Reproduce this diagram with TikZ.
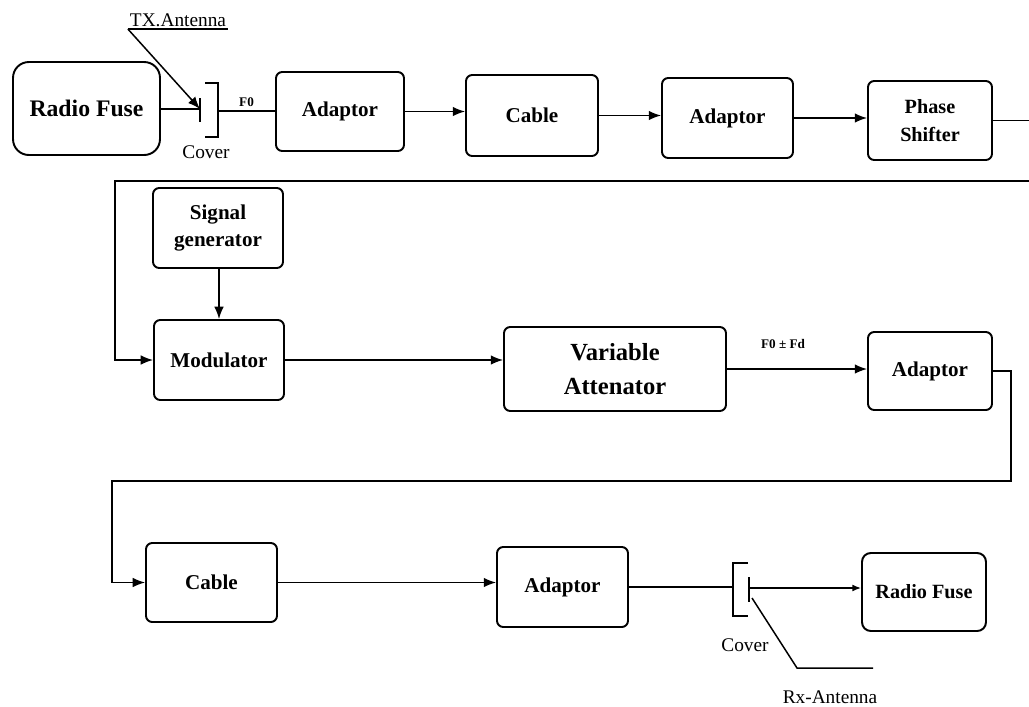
\documentclass[tikz,border=0pt]{standalone}
\usepackage{fontspec}
\setmainfont{Liberation Serif}
\usetikzlibrary{arrows.meta}

\begin{document}
\begin{tikzpicture}[x=0.02cm, y=-0.02cm,
  blk/.style={draw, line width=1.1pt, rounded corners=3.5pt, inner sep=0pt,
              font=\fontsize{12}{15}\selectfont\bfseries, align=center},
  conn/.style={line width=0.85pt},
  arr/.style={conn, -{Latex[length=7pt, width=5.5pt]}},
  lbl/.style={font=\fontsize{11}{13}\selectfont, inner sep=1pt},
  sig/.style={font=\fontsize{7.5}{9}\selectfont\bfseries, inner sep=1pt}
]
\useasboundingbox (0,0) rectangle (1029,707);
\clip (0,0) rectangle (1029,707);
% ---- top row ----
\node[blk, rounded corners=9pt, minimum width=2.94cm, minimum height=1.86cm,
      font=\fontsize{13.5}{16}\selectfont\bfseries] (rfA) at (86.5,108.5) {Radio Fuse};
\node[blk, minimum width=2.56cm, minimum height=1.58cm] (adA) at (340,111.5) {Adaptor};
\node[blk, minimum width=2.64cm, minimum height=1.62cm] (cabA) at (532,115.5) {Cable};
\node[blk, minimum width=2.62cm, minimum height=1.6cm] (adB) at (727.5,118) {Adaptor};
\node[blk, minimum width=2.48cm, minimum height=1.58cm,
      font=\fontsize{11.5}{16}\selectfont\bfseries] (phs) at (930,120.5) {Phase\\Shifter};
% ---- tx antenna and cover ----
\coordinate (txA) at (200,109);
\coordinate (covAout) at (218,111);
\draw[conn] (200,98) -- (200,122);
\draw[conn] (205,83) -- (218,83) -- (218,137) -- (205,137);
\node[lbl] (covA) at (206,152) {Cover};
\node[lbl, anchor=south] (txlbl) at (178,29) {TX.Antenna};
\draw[conn] (txlbl.south west) -- (txlbl.south east);
\draw[arr] (txlbl.south west) -- (txA);
\draw[conn] (rfA.east |- txA) -- (txA);
\draw[conn] (covAout) -- node[sig, above=1pt] {F0} (covAout -| adA.west);
\draw[arr] (adA.east) -- (adA.east -| cabA.west);
\draw[arr] (cabA.east) -- (cabA.east -| adB.west);
\draw[arr] (adB.east) -- (adB.east -| phs.west);
% ---- middle row ----
\node[blk, minimum width=2.6cm, minimum height=1.6cm] (sgen) at (218,228) {Signal\\generator};
\node[blk, minimum width=2.6cm, minimum height=1.6cm] (mod) at (219,360) {Modulator};
\node[blk, minimum width=4.44cm, minimum height=1.68cm,
      font=\fontsize{14}{19.5}\selectfont\bfseries] (vatt) at (615,369) {Variable\\Attenator};
\node[blk, minimum width=2.48cm, minimum height=1.56cm] (adC) at (930,371) {Adaptor};
\draw[arr] (phs.east) -- ++(60,0) |- (115,181) |- (mod.west);
\draw[arr] (sgen.south -| mod.north) -- (mod.north);
\draw[arr] (mod.east) -- (mod.east -| vatt.west);
\draw[arr] (vatt.east) -- (vatt.east -| adC.west);
\node[sig] (fdlbl) at (783,344) {F0 ± Fd};
% ---- bottom row ----
\node[blk, minimum width=2.62cm, minimum height=1.58cm] (cabB) at (211.5,582.5) {Cable};
\node[blk, minimum width=2.62cm, minimum height=1.6cm] (adD) at (562.5,587) {Adaptor};
\node[blk, rounded corners=5pt, minimum width=2.48cm, minimum height=1.56cm,
      font=\fontsize{11.5}{14}\selectfont\bfseries] (rfB) at (924,592) {Radio Fuse};
\draw[arr] (adC.east) -- ++(18,0) |- (112,481) |- (cabB.west);
\draw[arr] (cabB.east) -- (cabB.east -| adD.west);
% ---- rx antenna and cover ----
\coordinate (covBin) at (733,587);
\coordinate (rxA) at (749,588);
\coordinate (rxlead) at (797,668);
\draw[conn] (adD.east) -- (covBin);
\draw[conn] (748,563) -- (733,563) -- (733,616) -- (748,616);
\draw[conn] (749,577) -- (749,602);
\draw[conn, -{Latex[length=5pt, width=4pt]}] (rxA) -- (rxA -| rfB.west);
\draw[conn] (752,598) -- (rxlead) -- ++(76,0);
\node[lbl] (covB) at (745,645) {Cover};
\node[lbl] (rxlbl) at (830,697) {Rx-Antenna};
\end{tikzpicture}
\end{document}
